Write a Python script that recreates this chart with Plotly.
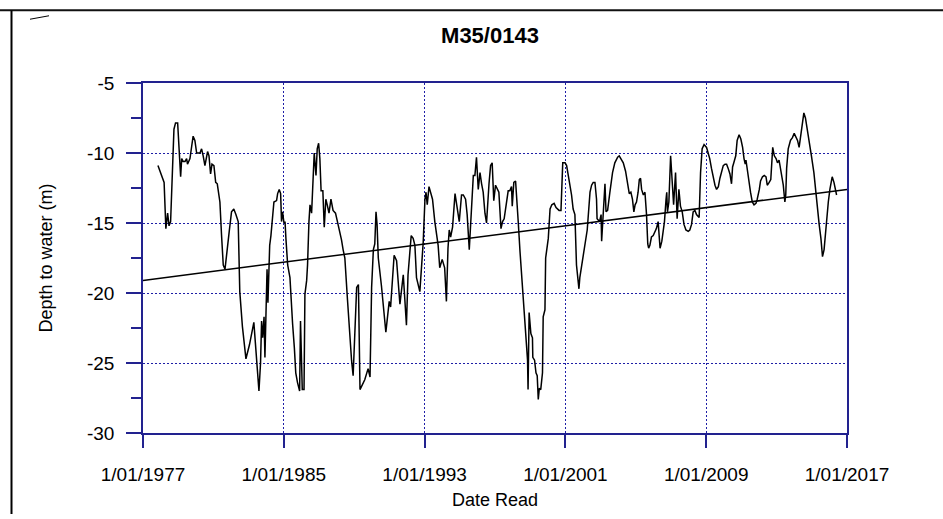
import plotly.graph_objects as go
import pandas as pd

# ---------------- data ----------------
title_text = "M35/0143"
x_title = "Date Read"
y_title = "Depth to water (m)"

tick_dates = ["1977-01-01", "1985-01-01", "1993-01-01", "2001-01-01", "2009-01-01", "2017-01-01"]
tick_labels = ["1/01/1977", "1/01/1985", "1/01/1993", "1/01/2001", "1/01/2009", "1/01/2017"]
y_ticks = [-30, -25, -20, -15, -10, -5]
y_tick_labels = ["-30", "-25", "-20", "-15", "-10", "-5"]

years = [
    1977.85, 1978.20, 1978.30, 1978.40, 1978.48, 1978.57, 1978.76, 1978.85, 1978.97, 1979.06,
    1979.14, 1979.20, 1979.28, 1979.39, 1979.48, 1979.53, 1979.67, 1979.77, 1979.85, 1979.95,
    1980.05, 1980.24, 1980.33, 1980.42, 1980.52, 1980.67, 1980.75, 1980.84, 1980.92, 1981.03,
    1981.13, 1981.22, 1981.37, 1981.46, 1981.56, 1981.66, 1981.80, 1981.90, 1982.03, 1982.16,
    1982.28, 1982.41, 1982.50, 1982.65, 1982.85, 1983.05, 1983.30, 1983.42, 1983.59, 1983.68,
    1983.74, 1983.80, 1983.88, 1983.93, 1984.00, 1984.05, 1984.10, 1984.15, 1984.20, 1984.27,
    1984.36, 1984.44, 1984.59, 1984.65, 1984.74, 1984.82, 1984.87, 1984.93, 1985.01, 1985.07,
    1985.12, 1985.16, 1985.22, 1985.35, 1985.45, 1985.50, 1985.60, 1985.68, 1985.78, 1985.90,
    1985.95, 1986.05, 1986.15, 1986.20, 1986.30, 1986.35, 1986.43, 1986.49, 1986.58, 1986.64,
    1986.73, 1986.83, 1986.90, 1986.98, 1987.05, 1987.12, 1987.22, 1987.30, 1987.39, 1987.47,
    1987.57, 1987.68, 1987.80, 1987.94, 1988.05, 1988.15, 1988.28, 1988.37, 1988.47, 1988.62,
    1988.76, 1988.85, 1988.94, 1989.14, 1989.24, 1989.33, 1989.60, 1989.79, 1989.90, 1989.99,
    1990.09, 1990.17, 1990.24, 1990.30, 1990.37, 1990.55, 1990.80, 1990.99, 1991.07, 1991.27,
    1991.41, 1991.60, 1991.79, 1991.97, 1992.06, 1992.20, 1992.24, 1992.35, 1992.45, 1992.54,
    1992.73, 1992.92, 1993.02, 1993.08, 1993.15, 1993.25, 1993.35, 1993.45, 1993.58, 1993.67,
    1993.77, 1993.86, 1994.00, 1994.14, 1994.24, 1994.33, 1994.40, 1994.48, 1994.59, 1994.73,
    1994.82, 1994.97, 1995.10, 1995.20, 1995.33, 1995.42, 1995.54, 1995.62, 1995.77, 1995.86,
    1995.95, 1996.05, 1996.15, 1996.24, 1996.33, 1996.43, 1996.52, 1996.66, 1996.75, 1996.84,
    1996.93, 1997.03, 1997.15, 1997.22, 1997.34, 1997.43, 1997.52, 1997.66, 1997.75, 1997.84,
    1997.94, 1997.98, 1998.07, 1998.17, 1998.22, 1998.32, 1998.42, 1998.60, 1998.76, 1998.85,
    1998.88, 1998.94, 1999.04, 1999.13, 1999.15, 1999.25, 1999.33, 1999.40, 1999.46, 1999.52,
    1999.60, 1999.70, 1999.74, 1999.84, 1999.88, 2000.03, 2000.13, 2000.23, 2000.36, 2000.47,
    2000.64, 2000.75, 2000.85, 2000.98, 2001.07, 2001.17, 2001.26, 2001.35, 2001.44, 2001.54,
    2001.63, 2001.77, 2001.82, 2001.98, 2002.10, 2002.15, 2002.24, 2002.40, 2002.49, 2002.58,
    2002.68, 2002.77, 2002.80, 2002.94, 2003.03, 2003.06, 2003.15, 2003.25, 2003.31, 2003.40,
    2003.53, 2003.68, 2003.81, 2003.97, 2004.06, 2004.16, 2004.29, 2004.42, 2004.53, 2004.63,
    2004.72, 2004.81, 2004.89, 2004.96, 2005.04, 2005.13, 2005.20, 2005.27, 2005.33, 2005.43,
    2005.52, 2005.61, 2005.68, 2005.73, 2005.80, 2005.89, 2005.99, 2006.08, 2006.17, 2006.27,
    2006.38, 2006.48, 2006.55, 2006.63, 2006.72, 2006.76, 2006.80, 2006.88, 2006.98, 2007.07,
    2007.15, 2007.26, 2007.35, 2007.45, 2007.54, 2007.64, 2007.74, 2007.85, 2007.98, 2008.07,
    2008.17, 2008.26, 2008.36, 2008.45, 2008.54, 2008.60, 2008.68, 2008.77, 2008.88, 2009.02,
    2009.11, 2009.20, 2009.30, 2009.40, 2009.50, 2009.59, 2009.69, 2009.78, 2009.88, 2009.97,
    2010.07, 2010.16, 2010.25, 2010.35, 2010.44, 2010.50, 2010.57, 2010.68, 2010.76, 2010.87,
    2010.97, 2011.07, 2011.15, 2011.22, 2011.26, 2011.35, 2011.44, 2011.52, 2011.62, 2011.72,
    2011.83, 2011.90, 2012.02, 2012.09, 2012.20, 2012.30, 2012.40, 2012.47, 2012.58, 2012.67,
    2012.78, 2012.87, 2012.97, 2013.05, 2013.14, 2013.22, 2013.30, 2013.38, 2013.47, 2013.52,
    2013.57, 2013.66, 2013.79, 2013.90, 2014.00, 2014.09, 2014.19, 2014.28, 2014.36, 2014.46,
    2014.55, 2014.64, 2014.74, 2014.85, 2014.98, 2015.12, 2015.23, 2015.31, 2015.42, 2015.52,
    2015.61, 2015.70, 2015.75, 2015.84, 2015.94, 2016.03, 2016.16, 2016.26, 2016.35, 2016.41,
]

depth = [
    -10.9, -12.1, -15.4, -14.3, -15.2, -14.9, -8.3, -7.85, -7.85, -10.0,
    -11.7, -10.4, -10.6, -10.6, -10.4, -10.8, -10.4, -9.5, -8.8, -9.1,
    -10.0, -10.0, -9.7, -10.2, -10.9, -9.9, -10.2, -11.5, -10.8, -10.9,
    -12.1, -12.2, -13.5, -15.8, -18.0, -18.3, -16.5, -15.6, -14.2, -14.0,
    -14.4, -14.9, -19.9, -22.4, -24.7, -23.7, -22.1, -23.9, -27.0, -25.0,
    -22.0, -23.2, -21.7, -24.6, -20.3, -18.3, -20.7, -17.7, -16.6, -15.9,
    -14.7, -13.5, -13.4, -12.9, -12.6, -12.9, -14.9, -14.2, -15.0, -14.9,
    -16.1, -16.8, -18.0, -18.9, -21.5, -22.2, -23.9, -25.7, -26.4, -27.0,
    -22.0, -26.9, -26.9, -20.1, -19.1, -18.0, -14.9, -13.7, -14.3, -12.3,
    -10.0, -11.6, -9.7, -9.3, -10.4, -12.7, -12.7, -15.3, -13.3, -13.7,
    -14.3, -13.3, -14.1, -14.3, -14.9, -15.6, -16.2, -16.9, -17.5, -20.5,
    -23.6, -24.8, -25.9, -19.6, -19.4, -26.9, -26.2, -25.4, -26.0, -19.6,
    -16.9, -16.5, -14.2, -15.1, -17.5, -19.5, -22.8, -20.6, -21.0, -17.3,
    -17.7, -20.8, -18.7, -22.3, -18.7, -16.8, -15.9, -16.1, -16.6, -18.9,
    -19.9, -16.4, -13.3, -12.8, -13.7, -12.4, -12.9, -13.3, -14.9, -15.7,
    -16.6, -18.2, -17.6, -18.2, -20.6, -16.8, -15.5, -16.0, -15.3, -12.9,
    -13.7, -14.9, -13.0, -13.0, -13.3, -14.4, -16.9, -14.7, -11.6, -11.6,
    -10.3, -12.6, -11.4, -12.2, -12.8, -14.3, -15.0, -12.2, -10.9, -10.7,
    -13.4, -12.3, -12.6, -12.8, -15.4, -14.9, -14.7, -13.3, -12.7, -12.7,
    -12.4, -13.8, -12.1, -12.0, -12.8, -14.9, -17.0, -20.3, -23.2, -24.8,
    -26.9, -21.4, -22.9, -23.2, -24.6, -24.8, -25.7, -25.9, -27.6, -26.8,
    -26.9, -25.7, -21.7, -21.2, -17.5, -16.1, -14.0, -13.7, -13.6, -13.9,
    -14.1, -14.1, -10.7, -10.7, -10.9, -11.6, -12.3, -13.0, -14.0, -14.4,
    -18.0, -19.7, -18.9, -17.5, -16.8, -16.2, -15.5, -12.8, -12.3, -12.1,
    -12.1, -13.3, -14.7, -14.9, -14.4, -16.3, -14.2, -12.2, -14.2, -14.1,
    -12.8, -11.4, -10.7, -10.3, -10.2, -10.4, -10.7, -11.3, -12.1, -12.9,
    -12.8, -13.3, -14.2, -13.7, -13.5, -12.8, -11.9, -11.8, -12.6, -13.0,
    -12.8, -14.4, -16.5, -16.8, -16.6, -16.0, -15.9, -15.6, -15.4, -14.9,
    -16.8, -16.3, -15.6, -14.9, -13.3, -12.8, -14.2, -13.5, -10.2, -12.6,
    -13.7, -11.4, -14.7, -12.6, -13.8, -14.2, -15.1, -15.5, -15.6, -15.5,
    -15.1, -14.2, -14.1, -14.4, -14.5, -14.6, -11.4, -9.7, -9.4, -9.6,
    -10.0, -10.4, -11.1, -11.8, -12.3, -12.6, -12.4, -11.8, -11.3, -10.9,
    -10.8, -10.8, -11.1, -11.5, -12.2, -11.0, -10.7, -10.2, -9.1, -8.7,
    -9.0, -9.6, -10.4, -10.8, -10.5, -11.4, -12.3, -12.8, -13.5, -13.7,
    -13.6, -13.3, -12.6, -12.0, -11.7, -11.6, -11.7, -12.3, -12.1, -11.9,
    -9.6, -10.2, -10.4, -10.7, -10.5, -11.1, -11.6, -12.3, -13.5, -13.0,
    -11.1, -9.7, -9.1, -8.9, -8.6, -8.9, -9.1, -9.6, -8.9, -8.0,
    -7.14, -7.5, -8.4, -9.3, -10.2, -11.4, -12.8, -14.0, -15.1, -16.1,
    -17.4, -16.9, -16.1, -14.9, -13.5, -12.6, -11.7, -12.1, -12.6, -13.0,
]

trend_years = [1977.0, 2017.0]
trend_depth = [-19.1, -12.6]


def to_date(y):
    base = pd.Timestamp(int(y), 1, 1)
    nxt = pd.Timestamp(int(y) + 1, 1, 1)
    return base + (nxt - base) * (y - int(y))


dates = [to_date(v) for v in years]
trend_dates = [to_date(v) for v in trend_years]

# ---------------- style ----------------
AXIS = "#22228f"
GRID = "#1e1ea6"
FONT = "Liberation Sans, Arial, sans-serif"

fig = go.Figure()
fig.add_trace(go.Scatter(x=dates, y=depth, mode="lines",
                         line=dict(color="black", width=1.5), hoverinfo="skip"))
fig.add_trace(go.Scatter(x=trend_dates, y=trend_depth, mode="lines",
                         line=dict(color="black", width=1.5), hoverinfo="skip"))

fig.update_layout(
    width=943, height=519,
    margin=dict(l=143, r=96, t=83, b=82),
    paper_bgcolor="white", plot_bgcolor="white",
    showlegend=False,
    font=dict(family=FONT, size=19, color="black"),
    title=dict(text="<b>" + title_text + "</b>", x=490 / 943, y=1 - 35 / 519,
               xanchor="center", yanchor="middle",
               font=dict(family=FONT, size=22, color="black")),
)

fig.update_xaxes(
    type="date",
    range=[tick_dates[0], tick_dates[-1]],
    tickvals=tick_dates, ticktext=tick_labels,
    showline=True, linecolor=AXIS, linewidth=1.5, mirror=True,
    ticks="outside", ticklen=13, tickwidth=1.5, tickcolor=AXIS,
    ticklabelstandoff=10,
    showgrid=True, gridcolor=GRID, griddash="2px,2px", gridwidth=1.2,
    zeroline=False,
    tickfont=dict(family=FONT, size=19, color="black"),
    title=dict(text=x_title, standoff=10, font=dict(family=FONT, size=18, color="black")),
)

fig.update_yaxes(
    range=[-30, -5],
    tickvals=y_ticks, ticktext=y_tick_labels,
    showline=True, linecolor=AXIS, linewidth=1.5, mirror=True,
    ticks="outside", ticklen=15, tickwidth=1.5, tickcolor=AXIS,
    ticklabelstandoff=8,
    minor=dict(dtick=2.5, ticks="outside", ticklen=10, tickwidth=1.5, tickcolor=AXIS, showgrid=False),
    showgrid=True, gridcolor=GRID, griddash="2px,2px", gridwidth=1.2,
    zeroline=False,
    tickfont=dict(family=FONT, size=19, color="black"),
    title=dict(text=y_title, standoff=30, font=dict(family=FONT, size=18, color="black")),
)

# frame decorations (paper coordinates relative to plot area)
W, L, R, T, B = 943, 143, 847, 83, 437
def fx(px):
    return (px - L) / (R - L)
def fy(py):
    return (B - py) / (B - T)

fig.add_shape(type="line", xref="paper", yref="paper",
              x0=fx(0), x1=fx(W), y0=fy(9.5), y1=fy(9.5),
              line=dict(color="#111111", width=2))
fig.add_shape(type="line", xref="paper", yref="paper",
              x0=fx(11.5), x1=fx(11.5), y0=fy(9.5), y1=fy(519),
              line=dict(color="black", width=2))
fig.add_shape(type="line", xref="paper", yref="paper",
              x0=fx(30), x1=fx(49), y0=fy(18.5), y1=fy(15),
              line=dict(color="black", width=1))

fig.write_html("out.html",
               config={"displayModeBar": False},
               post_script="document.body.style.margin='0px';document.body.style.overflow='hidden';")
